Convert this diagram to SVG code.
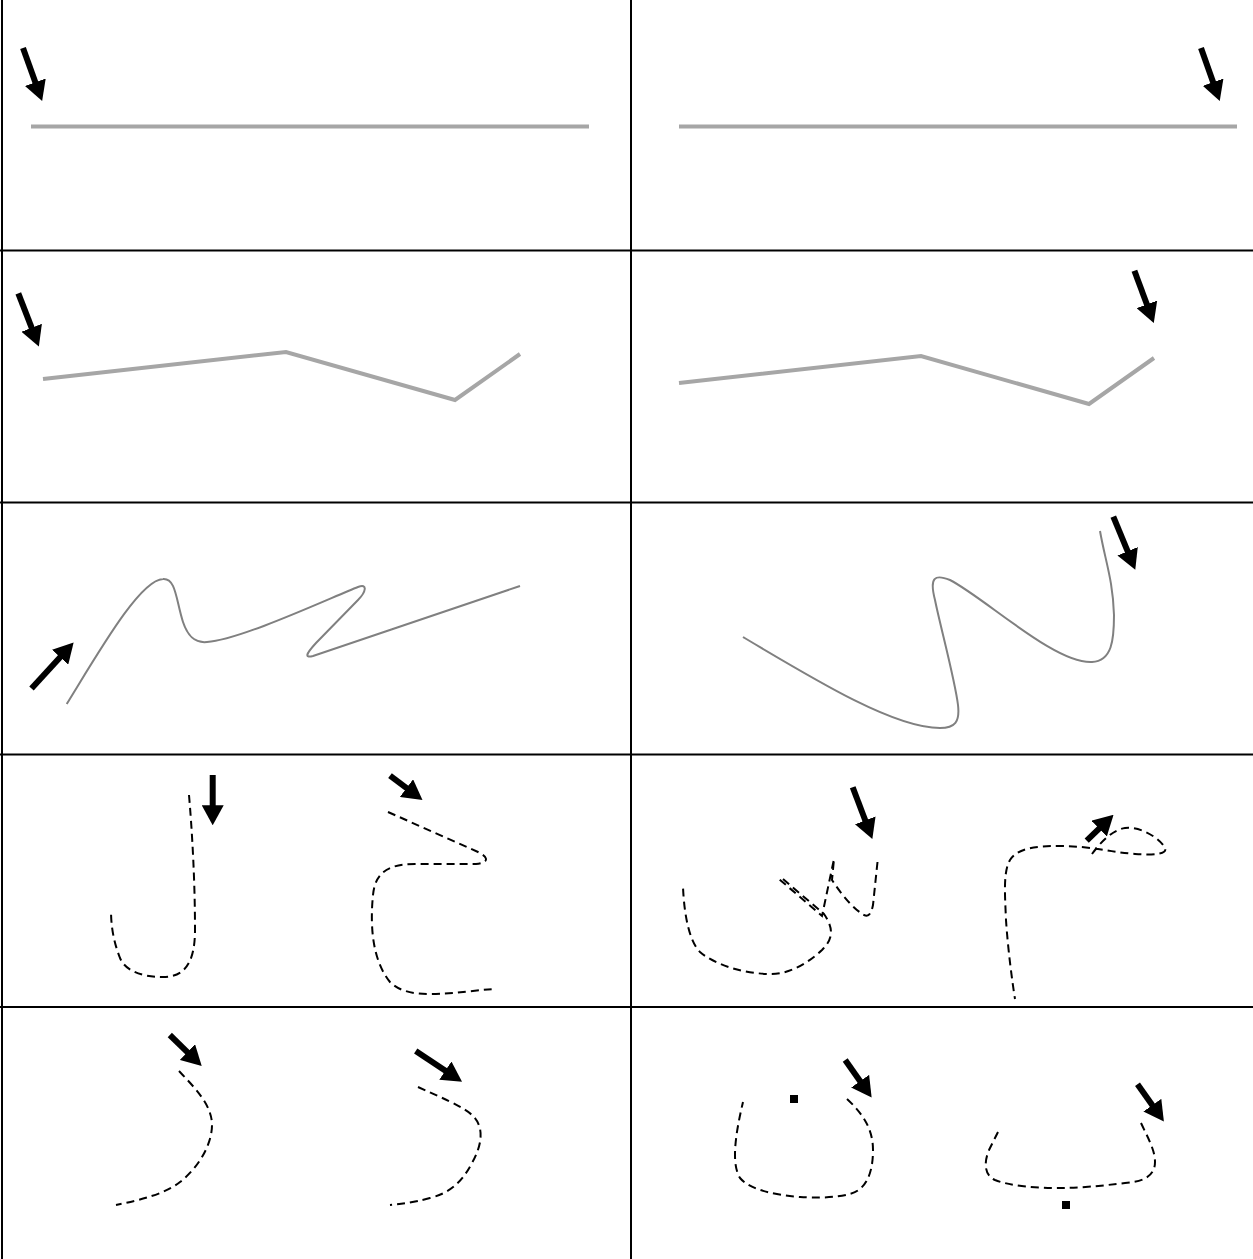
<svg xmlns="http://www.w3.org/2000/svg" width="1253" height="1259" viewBox="0 0 1253 1259">
<style>
.grid{stroke:#000;stroke-width:2;fill:none}
.poly{stroke:#a6a6a6;stroke-width:4;fill:none;stroke-linejoin:miter}
.curve{stroke:#808080;stroke-width:2;fill:none}
.dash{stroke:#000;stroke-width:2;fill:none;stroke-dasharray:8 5}
.arr{stroke:#000;stroke-width:6;fill:none;marker-end:url(#head)}
</style>
<defs>
<marker id="head" markerUnits="userSpaceOnUse" viewBox="0 -11 20 22" refX="1" refY="0" markerWidth="20" markerHeight="22" orient="auto">
<path d="M0,-11 L20,0 L0,11 Z" fill="#000"/>
</marker>
</defs>
<rect width="1253" height="1259" fill="#fff"/>
<g id="grid">
<line class="grid" x1="2" y1="0" x2="2" y2="1259"/>
<line class="grid" x1="631" y1="0" x2="631" y2="1259"/>
<line class="grid" x1="0" y1="250.5" x2="1253" y2="250.5"/>
<line class="grid" x1="0" y1="502.5" x2="1253" y2="502.5"/>
<line class="grid" x1="0" y1="754.5" x2="1253" y2="754.5"/>
<line class="grid" x1="0" y1="1007" x2="1253" y2="1007"/>
</g>
<g id="strokes">
<path id="s1" class="poly" d="M31,126.5 L589,126.5"/>
<path id="s2" class="poly" d="M679,126.5 L1237,126.5"/>
<path id="s3" class="poly" d="M43,379 L286,352 L455,400 L520,354"/>
<path id="s4" class="poly" d="M679,383 L921,356 L1089,404 L1154,358"/>
<path id="s5" class="curve" d="M66.7,704 C100,650 140,580 163,579 C176,578 176,600 183,622 C189,640 198,643 207,642 C240,640 330,598 358,587 C368,583 366,592 358,600 L316,643 C305,655 305,658 313,656 L520,586"/>
<path id="s6" class="curve" d="M743,637 C820,683 895,728 940,728 C955,728 960,722 958,705 C955,680 940,625 935,600 C929,577 935,574 950,580 C985,598 1055,664 1092,662 C1112,661 1114,640 1114,615 C1113,580 1105,560 1100,531"/>
<path id="s7" class="dash" d="M189,795 C192,830 195,880 195,930 C195,965 183,977 163,977 C140,977 125,970 120,958 C113,940 111,925 111,910"/>
<path id="s8" class="dash" d="M388,812 L478,852 C490,858 488,863 476,864 L415,864 C385,864 375,875 373,895 C370,925 372,960 390,982 C400,992 415,994 430,994 C455,994 475,990 495,989"/>
<path id="s9" class="dash" d="M877.5,862 L873,905 C871,915 868,917 864,915 C855,910 843,897 832,880 L834,859 L822,916 L779,879 L783,879 L824,914 C835,930 832,940 822,950 C808,963 790,974 771,974 C745,974 715,965 700,952 C688,940 684,910 683,887"/>
<path id="s10" class="dash" d="M1092,854 C1100,843 1112,830 1125,828 C1140,826 1160,838 1165,848 C1168,855 1150,855 1135,854 C1110,852 1090,846 1060,846 C1035,846 1018,848 1010,860 C1003,872 1005,895 1006,920 C1008,950 1012,980 1015,999"/>
<path id="s11" class="dash" d="M179,1071 C195,1088 212,1105 212,1125 C212,1145 198,1168 180,1182 C165,1194 140,1200 116,1205"/>
<path id="s12" class="dash" d="M418,1087 C440,1097 462,1106 472,1115 C485,1127 482,1145 472,1163 C462,1182 450,1193 430,1198 C412,1203 400,1204 390,1205"/>
<path id="s13" class="dash" d="M847,1099 C862,1113 873,1128 873,1150 C873,1175 865,1190 850,1194 C835,1198 815,1198 800,1197 C775,1195 750,1190 740,1178 C732,1165 734,1140 743,1102"/>
<path id="s14" class="dash" d="M1141,1123 C1148,1138 1155,1150 1155,1162 C1155,1178 1140,1182 1125,1183 C1100,1186 1080,1188 1060,1188 C1035,1188 1010,1186 995,1180 C982,1174 985,1158 990,1148 L998,1132"/>
<rect id="dot13" x="790" y="1095" width="8" height="8" fill="#000"/>
<rect id="dot14" x="1062" y="1201" width="8" height="8" fill="#000"/>
</g>
<g id="connectors">
<line class="arr" x1="23" y1="48" x2="35.7" y2="83.2"/>
<line class="arr" x1="1201" y1="48" x2="1213.4" y2="83.1"/>
<line class="arr" x1="18.3" y1="293.3" x2="32" y2="328.7"/>
<line class="arr" x1="1134.4" y1="270.7" x2="1147.2" y2="305.3"/>
<line class="arr" x1="31.5" y1="688.5" x2="60.8" y2="656.5"/>
<line class="arr" x1="1113.3" y1="516.7" x2="1128" y2="552.2"/>
<line class="arr" x1="212.7" y1="775" x2="212.7" y2="806.3"/>
<line class="arr" x1="390" y1="775.7" x2="407.3" y2="788.7"/>
<line class="arr" x1="852.7" y1="787.3" x2="865.6" y2="821.3"/>
<line class="arr" x1="1086.7" y1="840.7" x2="1099.9" y2="827.9"/>
<line class="arr" x1="169.8" y1="1035" x2="188.1" y2="1052.8"/>
<line class="arr" x1="415.7" y1="1051" x2="446.2" y2="1071.2"/>
<line class="arr" x1="845.2" y1="1060" x2="860.7" y2="1082"/>
<line class="arr" x1="1137.5" y1="1084.3" x2="1152.9" y2="1106"/>
</g>
</svg>
